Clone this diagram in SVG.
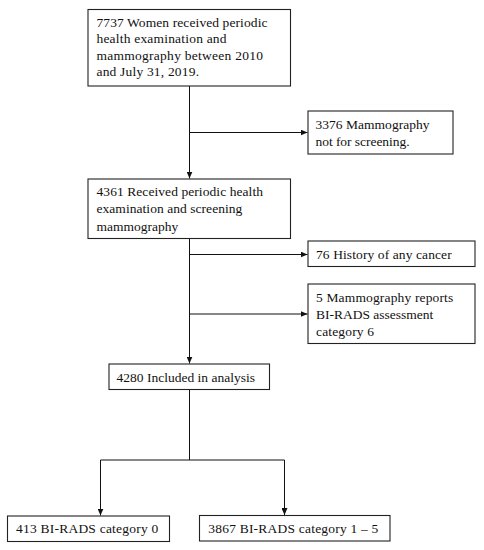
<svg xmlns="http://www.w3.org/2000/svg" width="484" height="550" viewBox="0 0 484 550">
<style>
.box{fill:#fff;stroke:#222;stroke-width:1.1}
.t{font-family:"Liberation Serif","Times New Roman",serif;font-size:13.5px;fill:#111}
.ln{fill:none;stroke:#111;stroke-width:1}
</style>
<defs>
<marker id="ah" markerWidth="7" markerHeight="6" refX="7" refY="3" orient="auto" markerUnits="userSpaceOnUse">
<path d="M0,0 L7,3 L0,6 Z" fill="#111"/>
</marker>
</defs>
<rect width="484" height="550" fill="#fff"/>
<g id="connectors">
<path class="ln" d="M189.5,86 V178.5" marker-end="url(#ah)"/>
<path class="ln" d="M189.5,132.5 H307.5" marker-end="url(#ah)"/>
<path class="ln" d="M189.5,239 V363.5" marker-end="url(#ah)"/>
<path class="ln" d="M189.5,254.5 H307.5" marker-end="url(#ah)"/>
<path class="ln" d="M189.5,314 H307.5" marker-end="url(#ah)"/>
<path class="ln" d="M189.5,389.5 V460"/>
<path class="ln" d="M100.5,460 H284.5"/>
<path class="ln" d="M100.5,460 V515.5" marker-end="url(#ah)"/>
<path class="ln" d="M284.5,460 V515" marker-end="url(#ah)"/>
</g>
<g id="n1">
<rect class="box" x="88" y="9.5" width="202.5" height="76.5"/>
<text class="t" x="96.5" y="26.5" textLength="171" lengthAdjust="spacing">7737 Women received periodic</text>
<text class="t" x="96.5" y="43" textLength="130" lengthAdjust="spacing">health examination and</text>
<text class="t" x="96.5" y="59.5" textLength="166.5" lengthAdjust="spacing">mammography between 2010</text>
<text class="t" x="96.5" y="76" textLength="102.5" lengthAdjust="spacing">and July 31, 2019.</text>
</g>
<g id="n2">
<rect class="box" x="308" y="111" width="145" height="43"/>
<text class="t" x="315.5" y="128.5" textLength="114" lengthAdjust="spacing">3376 Mammography</text>
<text class="t" x="315.5" y="146" textLength="94" lengthAdjust="spacing">not for screening.</text>
</g>
<g id="n3">
<rect class="box" x="88" y="179" width="202.5" height="59.5"/>
<text class="t" x="96.5" y="195.5" textLength="166.5" lengthAdjust="spacing">4361 Received periodic health</text>
<text class="t" x="96.5" y="213" textLength="145.8" lengthAdjust="spacing">examination and screening</text>
<text class="t" x="96.5" y="230.5">mammography</text>
</g>
<g id="n4">
<rect class="box" x="308" y="241" width="167" height="25.5"/>
<text class="t" x="316" y="258.5" textLength="135.7" lengthAdjust="spacing">76 History of any cancer</text>
</g>
<g id="n5">
<rect class="box" x="308" y="284" width="167" height="59.5"/>
<text class="t" x="316" y="301.5" textLength="137.3" lengthAdjust="spacing">5 Mammography reports</text>
<text class="t" x="316" y="318.5" textLength="117.3" lengthAdjust="spacing">BI-RADS assessment</text>
<text class="t" x="316" y="335.5" textLength="58" lengthAdjust="spacing">category 6</text>
</g>
<g id="n6">
<rect class="box" x="109" y="364" width="160.5" height="25.5"/>
<text class="t" x="116.5" y="381.5" textLength="138.5" lengthAdjust="spacing">4280 Included in analysis</text>
</g>
<g id="n7">
<rect class="box" x="7.5" y="516" width="162" height="25.5"/>
<text class="t" x="16" y="533" textLength="142.3" lengthAdjust="spacing">413 BI-RADS category 0</text>
</g>
<g id="n8">
<rect class="box" x="199.5" y="515.5" width="190.5" height="25.5"/>
<text class="t" x="208.3" y="532.5" textLength="170" lengthAdjust="spacing">3867 BI-RADS category 1 – 5</text>
</g>
</svg>
